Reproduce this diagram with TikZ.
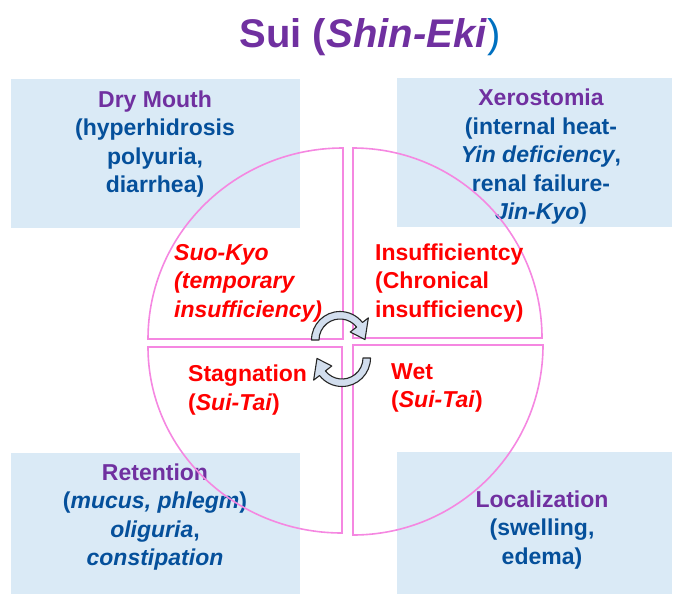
\documentclass[tikz,border=0pt]{standalone}
\usepackage{fontspec}
\setmainfont{Liberation Sans}
\definecolor{ttpurple}{RGB}{112,48,160}
\definecolor{txblue}{RGB}{5,80,155}
\definecolor{boxfill}{RGB}{218,234,246}
\definecolor{sectpink}{RGB}{245,135,225}
\definecolor{arrfill}{RGB}{210,222,238}
\definecolor{parblue}{RGB}{0,112,192}
\tikzset{
  infobox/.style={fill=boxfill},
  sector/.style={draw=sectpink, line width=1.6pt},
  boxtext/.style={inner sep=0pt, align=center, text=txblue,
     font=\fontsize{23}{28.5}\selectfont\bfseries},
  secttext/.style={inner sep=0pt, align=left, anchor=west, text=red,
     font=\fontsize{23}{28.5}\selectfont\bfseries},
  cyclearrow/.style={draw=black!85, fill=arrfill, line width=1.1pt, line join=round}
}
\begin{document}
\begin{tikzpicture}[x=1pt, y=1pt, yscale=-1]
\useasboundingbox (0,0) rectangle (674,594);
% background boxes
\fill[infobox] (11,79) rectangle (300,228);
\fill[infobox] (397,78) rectangle (672,227);
\fill[infobox] (11,453) rectangle (300,594);
\fill[infobox] (397,452) rectangle (672,594);
% title
\node[inner sep=0pt, anchor=base, text=ttpurple, font=\fontsize{40}{44}\selectfont\bfseries]
  (title) at (370,48) {Sui (\textit{Shin-Eki}{\color{parblue}\mdseries)}};
% box texts
\node[boxtext] (drymouth) at (155,144) {{\color{ttpurple}Dry Mouth}\\(hyperhidrosis\\polyuria,\\diarrhea)};
\node[boxtext] (xero) at (541,157) {{\color{ttpurple}Xerostomia}\\(internal heat-\\\textit{Yin deficiency},\\renal failure-\\\textit{Jin-Kyo})};
\node[boxtext] (retention) at (155,517) {{\color{ttpurple}Retention}\\(\textit{mucus,\ phlegm})\\\textit{oliguria},\\\textit{constipation}};
\node[boxtext] (local) at (542,530) {{\color{ttpurple}Localization}\\(swelling,\\edema)};
% sectors
\draw[sector] (343,339) -- (148,339) arc[start angle=180, end angle=270, x radius=195, y radius=191] -- cycle;
\draw[sector] (353,338) -- (353,148) arc[start angle=270, end angle=360, x radius=189, y radius=190] -- cycle;
\draw[sector] (342,347) -- (148,347) arc[start angle=180, end angle=90, x radius=194, y radius=186] -- cycle;
\draw[sector] (353,345) -- (543,345) arc[start angle=0, end angle=90, x radius=190, y radius=190] -- cycle;
% sector texts
\node[secttext, font=\fontsize{23}{28.5}\selectfont\bfseries\itshape] (suokyo) at (174,283) {Suo-Kyo\\(temporary\\insufficiency)};
\node[secttext] (insuff) at (375,283) {Insufficientcy\\(Chronical\\insufficiency)};
\node[secttext] (stag) at (188,390) {Stagnation\\(\textit{Sui-Tai})};
\node[secttext] (wet) at (391,388) {Wet\\(\textit{Sui-Tai})};
% cycle arrows
\begin{scope}[shift={(340,340)}]
  \draw[cyclearrow] (180:28.5) arc[start angle=180, end angle=322, radius=28.5]
    -- (322:36) -- (359:25) -- (322:13) -- (322:21)
    arc[start angle=322, end angle=180, radius=21] -- cycle;
\end{scope}
\begin{scope}[shift={(342,358)}]
  \draw[cyclearrow] (0:28.5) arc[start angle=0, end angle=142, radius=28.5]
    -- (142:36) -- (179:25) -- (142:13) -- (142:21)
    arc[start angle=142, end angle=0, radius=21] -- cycle;
\end{scope}
\end{tikzpicture}
\end{document}
